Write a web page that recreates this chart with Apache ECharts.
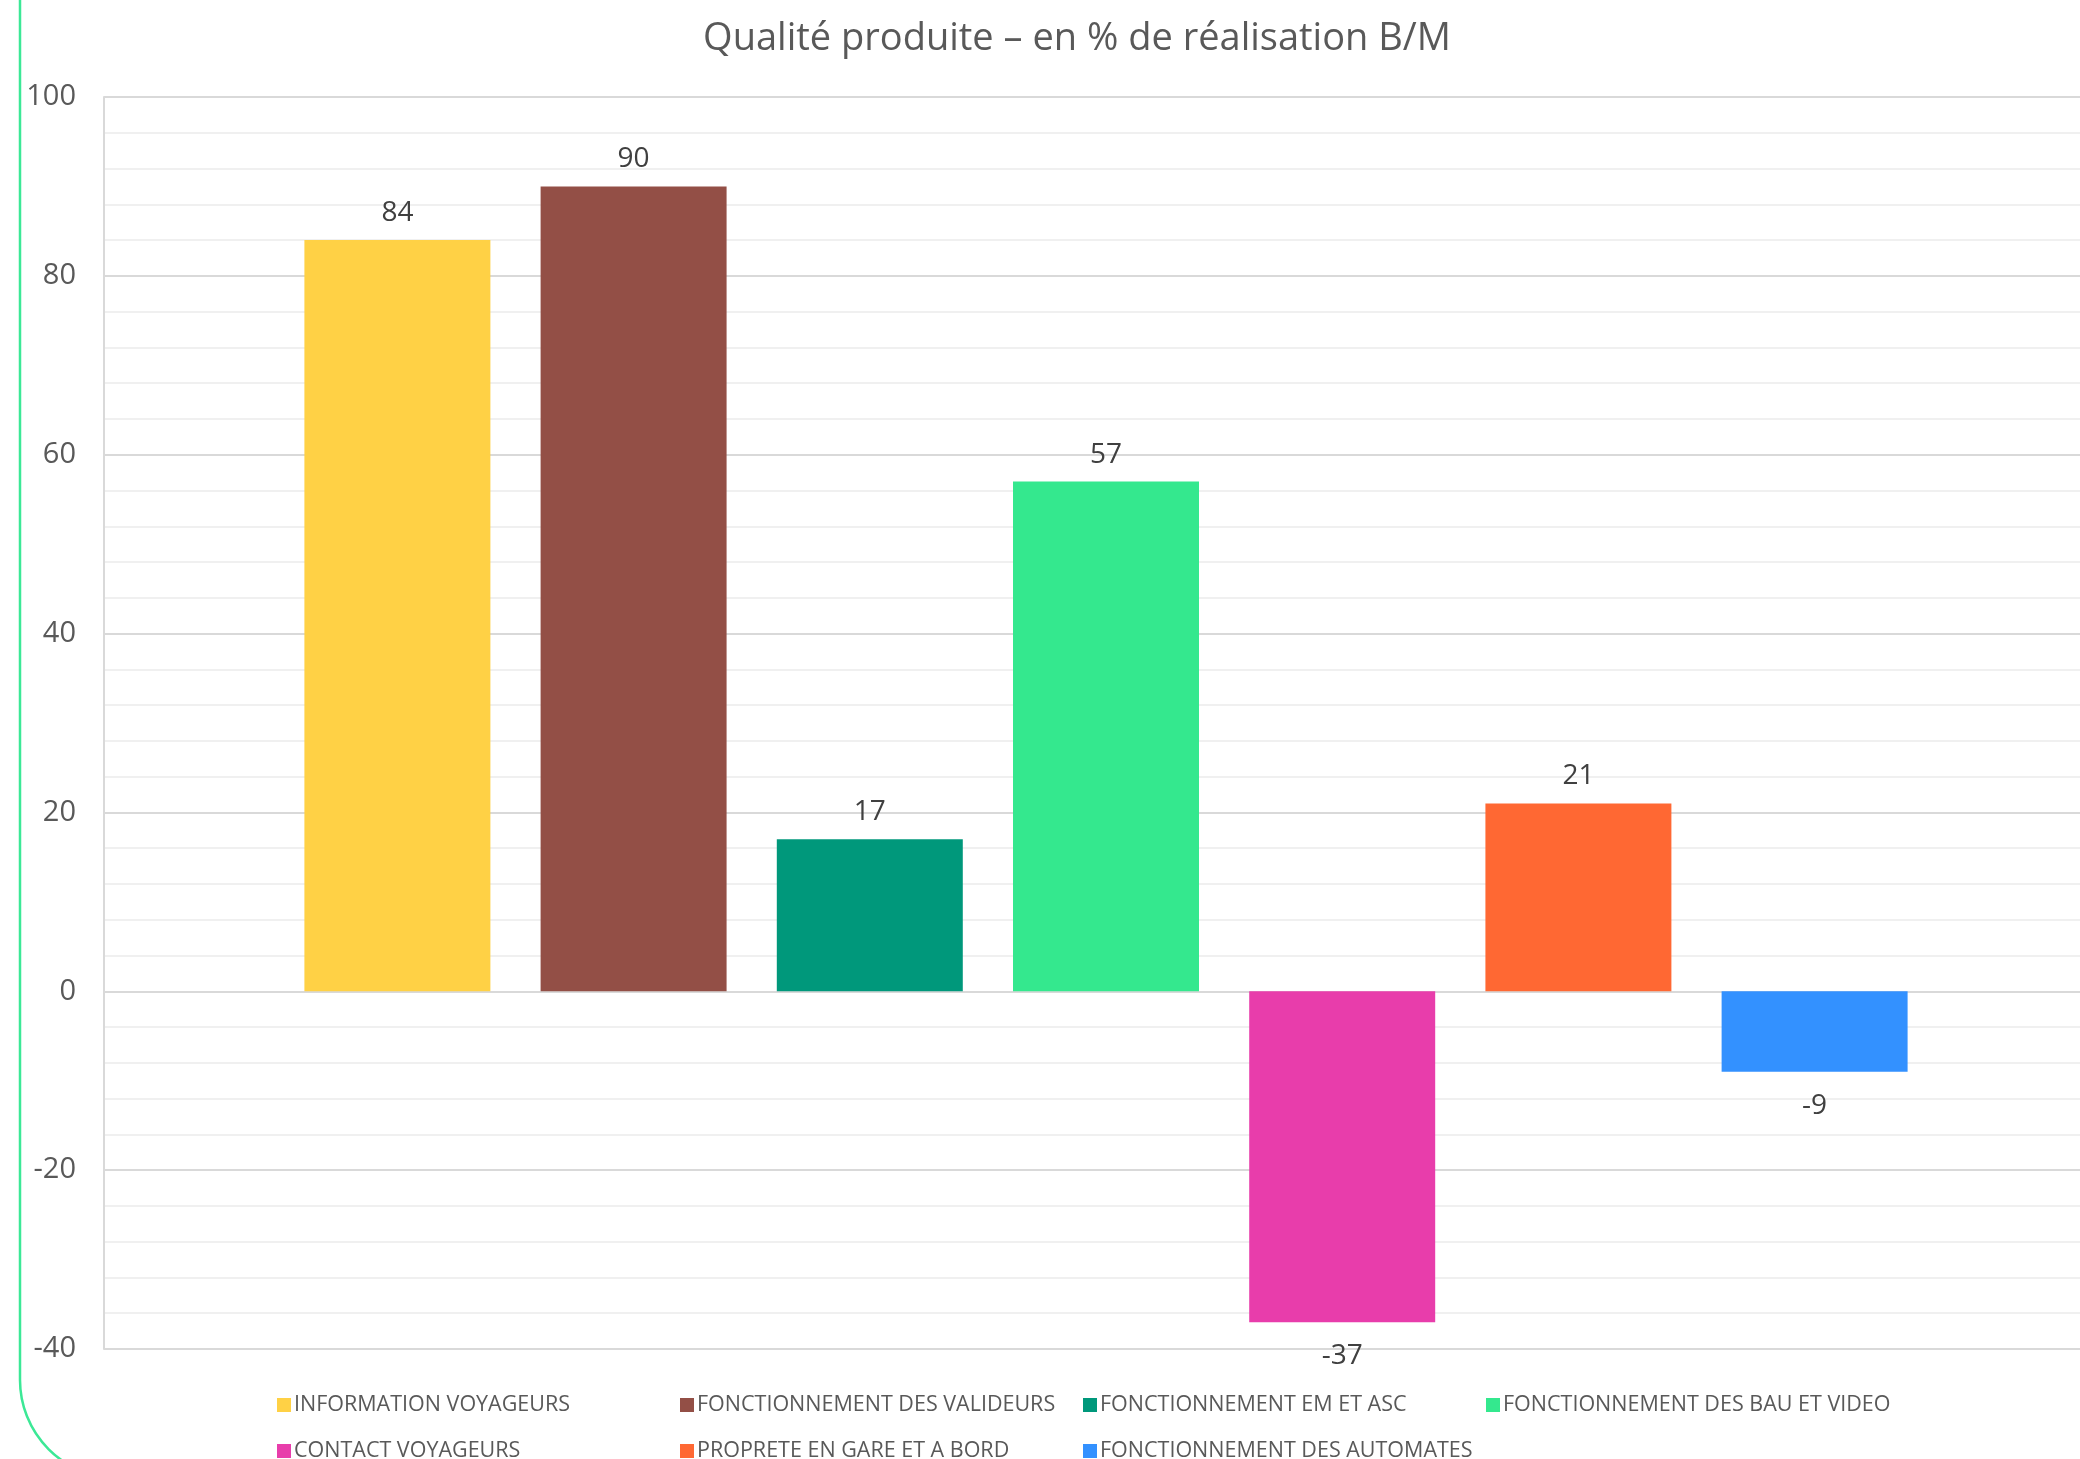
<!DOCTYPE html>
<html>
<head>
<meta charset="utf-8">
<script src="https://cdn.jsdelivr.net/npm/echarts@6/dist/echarts.min.js"></script>
<style>
html,body{margin:0;padding:0;background:#fff;overflow:hidden;width:2080px;height:1459px;}
#chart{width:2108px;height:1459px;}
</style>
</head>
<body>
<div id="chart"></div>
<script>
const titleText = 'Qualité produite – en % de réalisation B/M';
const categories = [''];
const seriesNames = [
  'INFORMATION VOYAGEURS',
  'FONCTIONNEMENT DES VALIDEURS',
  'FONCTIONNEMENT EM ET ASC',
  'FONCTIONNEMENT DES BAU ET VIDEO',
  'CONTACT VOYAGEURS',
  'PROPRETE EN GARE ET A BORD',
  'FONCTIONNEMENT DES AUTOMATES'
];
const seriesValues = [84, 90, 17, 57, -37, 21, -9];
const seriesColors = ['#FFD145', '#934F46', '#00987B', '#34E88E', '#E83DAB', '#FF6833', '#3391FF'];
const yTicks = { min: -40, max: 100, interval: 20 };

const FONT = "'Open Sans', 'Noto Sans', sans-serif";

const chart = echarts.init(document.getElementById('chart'));
const series = seriesNames.map((name, i) => ({
  name: name,
  type: 'bar',
  data: [seriesValues[i]],
  itemStyle: { color: seriesColors[i] },
  barGap: '27%',
  barCategoryGap: '20%',
  label: {
    show: true,
    position: seriesValues[i] >= 0 ? 'top' : 'bottom',
    distance: seriesValues[i] >= 0 ? 13 : 20,
    color: '#404040',
    fontSize: 28,
    fontFamily: FONT
  }
}));

chart.setOption({
  animation: false,
  backgroundColor: '#ffffff',
  title: {
    text: titleText,
    left: 1072,
    textAlign: 'center',
    top: 15,
    textStyle: { color: '#595959', fontSize: 38, fontWeight: 'normal', fontFamily: FONT }
  },
  legend: {
    left: 272,
    top: 1386,
    width: 1700,
    itemWidth: 14,
    itemHeight: 14,
    itemGap: 18,
    icon: 'rect',
    textStyle: { color: '#595959', fontSize: 21.5, fontFamily: FONT, width: 368, lineHeight: 28, padding: [0,0,0,-2] },
    data: seriesNames
  },
  grid: { left: 104, right: 0, top: 97, bottom: 110, containLabel: false },
  xAxis: {
    type: 'category',
    data: categories,
    axisLine: { show: false },
    axisTick: { show: false },
    axisLabel: { show: false }
  },
  yAxis: {
    type: 'value',
    min: yTicks.min,
    max: yTicks.max,
    interval: yTicks.interval,
    axisLine: { show: true, lineStyle: { color: '#d9d9d9', width: 2 } },
    axisTick: { show: false },
    axisLabel: { color: '#595959', fontSize: 29, fontFamily: FONT, margin: 28 },
    splitLine: { show: true, lineStyle: { color: '#d9d9d9', width: 2 } },
    minorTick: { show: false, splitNumber: 5 },
    minorSplitLine: { show: true, lineStyle: { color: '#f0f0f0', width: 2 } }
  },
  graphic: [{
    type: 'rect',
    shape: { x: 20, y: -200, width: 2300, height: 1678, r: 98 },
    style: { fill: 'none', stroke: '#3CE896', lineWidth: 2.5 },
    silent: true,
    z: 100
  }],
  series: series
});
</script>
</body>
</html>
